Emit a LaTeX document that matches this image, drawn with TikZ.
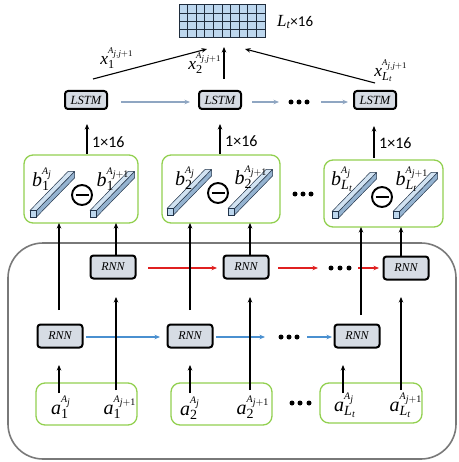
\documentclass[tikz,border=0pt]{standalone}
\usepackage{fontspec}
\newfontfamily\tnr{Liberation Serif}[NFSSFamily=tnrfam]
\newfontfamily\cbr{Carlito}
\DeclareMathAlphabet{\mtnr}{TU}{tnrfam}{m}{it}
\DeclareMathAlphabet{\mtnrup}{TU}{tnrfam}{m}{n}
\newcommand{\lbl}[3]{\mtnr{#1}_{#2}^{\scriptscriptstyle #3}}
\usetikzlibrary{arrows.meta,calc}
\definecolor{boxfill}{HTML}{D6DCE4}
\definecolor{gridfill}{HTML}{BDD7EE}
\definecolor{gridline}{HTML}{1F2D3D}
\definecolor{grn}{HTML}{92D050}
\definecolor{lstmc}{HTML}{8FA6C2}
\definecolor{bluec}{HTML}{4A90D0}
\definecolor{redc}{HTML}{E02020}
\definecolor{barlight}{HTML}{D2E3F2}
\definecolor{bardark}{HTML}{95B3D0}
\definecolor{barfront}{HTML}{BDD7EE}
\definecolor{barline}{HTML}{22344A}
\newcommand{\prism}[2]{%
  \filldraw[fill=bardark,draw=barline,line width=0.5pt,line join=round]
    ({#1+6.5},{#2-6.5}) -- ({#1+6.5},{#2}) -- ({#1+44.5},{#2-39}) -- ({#1+44.5},{#2-45.5}) -- cycle;
  \filldraw[fill=barlight,draw=barline,line width=0.5pt,line join=round]
    ({#1},{#2-6.5}) -- ({#1+6.5},{#2-6.5}) -- ({#1+44.5},{#2-45.5}) -- ({#1+38},{#2-45.5}) -- cycle;
  \filldraw[fill=barfront,draw=barline,line width=0.8pt]
    ({#1},{#2}) rectangle ({#1+6.5},{#2-6.5});
}
% pieces of the labels
\newcommand{\Aj}{\mtnr{A}_{\mtnr{j}}}
\newcommand{\Ajj}{\mtnr{A}_{\mtnr{j}\mtnrup{+1}}}
\newcommand{\Ajjj}{\mtnr{A}_{\mtnr{j},\mtnr{j}\mtnrup{+1}}}
\newcommand{\Lt}{\mtnr{L}_{\mtnr{t}}}
\begin{document}
\begin{tikzpicture}[x=1pt,y=-1pt,
  blk/.style={draw=black,line width=2pt,rounded corners=3pt,fill=boxfill,inner sep=0pt,
    font=\tnr\itshape\fontsize{12}{14}\selectfont},
  lstm/.style={blk,minimum width=42pt,minimum height=18pt,font=\tnr\itshape\fontsize{12.5}{14}\selectfont},
  rnn/.style={blk,minimum width=45pt,minimum height=23pt},
  gbox/.style={draw=grn,line width=1.3pt,rounded corners=9pt,inner sep=0pt},
  arr/.style={-{Stealth[length=5.5pt,width=4.5pt]},line width=1.1pt},
  carr/.style={arr,line width=1.2pt},
  dotc/.style={circle,fill=black,inner sep=0pt,minimum size=5pt},
  minusc/.style={circle,draw=black,line width=1.9pt,minimum size=20pt,inner sep=0pt},
  lab/.style={inner sep=0pt,font=\tnr\fontsize{20}{22}\selectfont},
  xlab/.style={inner sep=0pt,font=\tnr\fontsize{17.5}{19}\selectfont},
  dimlab/.style={inner sep=0pt,anchor=west,font=\cbr\fontsize{16}{18}\selectfont}
]
\useasboundingbox (0,0) rectangle (458,462);

% container
\draw[draw=gray!95!black,line width=1.6pt,rounded corners=35pt] (8,243) rectangle (456,459);

% output grid
\node[draw=gridline,fill=gridfill,line width=1pt,minimum width=86pt,minimum height=33pt,inner sep=0pt] (grid) at (222,21.5) {};
\foreach \i in {1,...,9} \draw[gridline,line width=0.7pt] ({179+\i*8.6},5) -- ({179+\i*8.6},38);
\foreach \j in {1,2,3} \draw[gridline,line width=0.7pt] (179,{5+\j*8.25}) -- (265,{5+\j*8.25});
\node[inner sep=0pt,anchor=west,font=\cbr\fontsize{15}{17}\selectfont] (glab) at (277,22) {{\tnr\fontsize{17}{19}\selectfont$\Lt$}×16};

% LSTM row
\node[lstm] (l1) at (86,100) {LSTM};
\node[lstm] (l2) at (220,100) {LSTM};
\node[lstm] (l3) at (375,100) {LSTM};
\node[dotc] (ld1) at (291,102) {};
\node[dotc] (ld2) at (299,102) {};
\node[dotc] (ld3) at (307,102) {};
\draw[carr,draw=lstmc] (121,102) -- (190,102);
\draw[carr,draw=lstmc] (252,102) -- (279,102);
\draw[carr,draw=lstmc] (321,102) -- (348,102);

% arrows into the grid
\coordinate (t1s) at (93,79);  \coordinate (t1e) at (207,49);
\coordinate (t2s) at (224,79); \coordinate (t2e) at (224,47);
\coordinate (t3s) at (375,83); \coordinate (t3e) at (245,49);
\draw[arr] (t1s) -- (t1e);
\draw[arr] (t2s) -- (t2e);
\draw[arr] (t3s) -- (t3e);
\node[xlab] (x1) at (117,58) {$\lbl{x}{\mtnrup{1}}{\Ajjj}$};
\node[xlab] (x2) at (205,63) {$\lbl{x}{\mtnrup{2}}{\Ajjj}$};
\node[xlab] (x3) at (391,71) {$\lbl{x}{\Lt}{\Ajjj}$};

% arrows b-boxes -> LSTM
\coordinate (u1s) at (87,154); \coordinate (u1e) at (87,124);
\coordinate (u2s) at (220,154); \coordinate (u2e) at (220,124);
\coordinate (u3s) at (374,158); \coordinate (u3e) at (374,126);
\draw[arr] (u1s) -- (u1e);
\draw[arr] (u2s) -- (u2e);
\draw[arr] (u3s) -- (u3e);
\node[dimlab] (d1) at (92,142) {1×16};
\node[dimlab] (d2) at (225,141) {1×16};
\node[dimlab] (d3) at (379,143) {1×16};

% b-boxes
\node[gbox,minimum width=114pt,minimum height=68pt] (bb1) at (81,189) {};
\node[gbox,minimum width=118pt,minimum height=68pt] (bb2) at (221,189) {};
\node[gbox,minimum width=119pt,minimum height=67pt] (bb3) at (383.5,193.5) {};
\prism{30}{217}\prism{90}{217}
\prism{167}{215}\prism{228}{215}
\prism{332}{218}\prism{393}{218}
\foreach \n/\x/\y in {m1/82/195,m2/218/193,m3/382/197}{
  \node[minusc] (\n) at (\x,\y) {};
  \draw[line width=2.2pt] ($(\n)+(-6.5,0)$) -- ($(\n)+(6.5,0)$);
}
\node[lab] (b11) at (42,179) {$\lbl{b}{\mtnrup{1}}{\Aj}$};
\node[lab] (b12) at (113,179) {$\lbl{b}{\mtnrup{1}}{\Ajj}$};
\node[lab] (b21) at (185,178) {$\lbl{b}{\mtnrup{2}}{\Aj}$};
\node[lab] (b22) at (251,177) {$\lbl{b}{\mtnrup{2}}{\Ajj}$};
\node[lab] (b31) at (342,179) {$\lbl{b}{\Lt}{\Aj}$};
\node[lab] (b32) at (412,179) {$\lbl{b}{\Lt}{\Ajj}$};
\node[dotc] (bd1) at (295,194) {};
\node[dotc] (bd2) at (303,194) {};
\node[dotc] (bd3) at (311,194) {};

% upper RNN row
\node[rnn] (ru1) at (113,267) {RNN};
\node[rnn] (ru2) at (246,267) {RNN};
\node[rnn] (ru3) at (406,268) {RNN};
\draw[carr,draw=redc] (148,268) -- (217,268);
\draw[carr,draw=redc] (278,268) -- (318,268);
\draw[carr,draw=redc] (358,268) -- (379,268);
\node[dotc] (rd1) at (331,268) {};
\node[dotc] (rd2) at (340,268) {};
\node[dotc] (rd3) at (349,268) {};

% lower RNN row
\node[rnn] (rl1) at (60,336) {RNN};
\node[rnn] (rl2) at (190,336) {RNN};
\node[rnn] (rl3) at (357,336) {RNN};
\draw[carr,draw=bluec] (86,337) -- (160,337);
\draw[carr,draw=bluec] (216,337) -- (265,337);
\draw[carr,draw=bluec] (307,337) -- (332,337);
\node[dotc] (bl1) at (281,337) {};
\node[dotc] (bl2) at (289,337) {};
\node[dotc] (bl3) at (297,337) {};

% a-boxes
\node[gbox,minimum width=101pt,minimum height=42pt] (ab1) at (86.5,404) {};
\node[gbox,minimum width=101pt,minimum height=42pt] (ab2) at (221.5,404) {};
\node[gbox,minimum width=102pt,minimum height=40pt] (ab3) at (371,403) {};
\node[lab] (a11) at (61,407) {$\lbl{a}{\mtnrup{1}}{\Aj}$};
\node[lab] (a12) at (120,407) {$\lbl{a}{\mtnrup{1}}{\Ajj}$};
\node[lab] (a21) at (190,408) {$\lbl{a}{\mtnrup{2}}{\Aj}$};
\node[lab] (a22) at (253,407) {$\lbl{a}{\mtnrup{2}}{\Ajj}$};
\node[lab] (a31) at (345,405) {$\lbl{a}{\Lt}{\Aj}$};
\node[lab] (a32) at (406,405) {$\lbl{a}{\Lt}{\Ajj}$};
\node[dotc] (ad1) at (292,403) {};
\node[dotc] (ad2) at (300,403) {};
\node[dotc] (ad3) at (309,403) {};

% vertical connectors, column by column
% column 1
\draw[arr] (59,393) -- (59,365);
\draw[arr] (59,310) -- (59,223);
\draw[arr] (116,390) -- (116,297);
\draw[arr] (116,255) -- (116,223);
% column 2
\draw[arr] (190,393) -- (190,365);
\draw[arr] (190,310) -- (190,223);
\draw[arr] (250,390) -- (250,297);
\draw[arr] (250,255) -- (250,223);
% column L_t
\draw[arr] (343,393) -- (343,365);
\draw[arr] (361,315) -- (361,227);
\draw[arr] (401,390) -- (401,297);
\draw[arr] (401,256) -- (401,227);
\end{tikzpicture}
\end{document}
